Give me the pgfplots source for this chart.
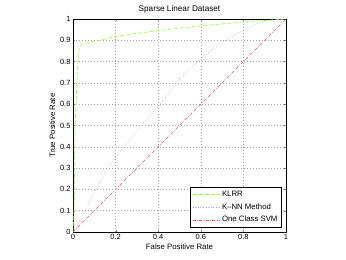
\documentclass[border=0pt]{standalone}
\usepackage{pgfplots}
\pgfplotsset{compat=1.18}
\usepackage{fontspec}
\setmainfont{Liberation Sans}
\definecolor{klrr}{rgb}{0.55,1,0.2}
\definecolor{knn}{rgb}{0.6,0.6,1}
\definecolor{svm}{rgb}{1,0.3,0.3}
\begin{document}
\begin{tikzpicture}[x=1pt,y=1pt]
\useasboundingbox (0,0) rectangle (346,260);
\begin{axis}[
  at={(73pt,28pt)}, anchor=south west,
  scale only axis, width=213pt, height=213pt,
  xmin=0, xmax=1, ymin=0, ymax=1,
  xtick={0,0.2,0.4,0.6,0.8,1},
  ytick={0,0.1,0.2,0.3,0.4,0.5,0.6,0.7,0.8,0.9,1},
  tick align=inside, tick pos=both,
  major tick length=2pt,
  grid=major,
  grid style={dash pattern=on 0.7pt off 2.3pt, gray!75, line width=0.4pt},
  axis line style={line width=0.5pt},
  /pgf/number format/assume math mode=true,
  ticklabel style={font=\fontsize{7.5}{8}\selectfont},
  label style={font=\fontsize{7.8}{8}\selectfont},
  title style={font=\fontsize{8.2}{9}\selectfont, yshift=-4pt},
  title={Sparse Linear Dataset},
  xlabel={False Positive Rate},
  ylabel={True Positive Rate},
  xlabel style={yshift=3pt},
  ylabel style={yshift=-2pt},
  xticklabel style={yshift=1pt},
  yticklabel style={xshift=1pt},
  legend style={at={(0.98,0.02)}, anchor=south east, font=\fontsize{7.8}{9}\selectfont, draw=black, line width=0.5pt, inner sep=2pt, row sep=1.5pt, legend cell align=left},
  legend image code/.code={\draw[#1, line width=0.8pt] (0cm,0cm) -- (0.95cm,0cm);},
]
\addplot[klrr, line width=0.6pt, dash pattern=on 4pt off 2pt] coordinates {
(0,0) (0.005,0.1) (0.01,0.5) (0.02,0.75) (0.03,0.87) (0.05,0.885) (0.1,0.895) (0.2,0.917) (0.3,0.933) (0.4,0.945) (0.5,0.957) (0.6,0.968) (0.7,0.977) (0.8,0.986) (0.9,0.993) (1,1)};
\addlegendentry{KLRR}
\addplot[knn, dotted, line width=0.6pt] coordinates {
(0,0) (0.02,0.03) (0.056,0.1) (0.108,0.2) (0.165,0.3) (0.24,0.4) (0.32,0.5) (0.41,0.6) (0.5,0.72) (0.6,0.815) (0.7,0.89) (0.785,0.94) (0.87,0.98) (0.93,0.995) (1,1)};
\addlegendentry{K--NN Method}
\addplot[svm, dash pattern=on 3pt off 1.5pt on 0.6pt off 1.5pt, line width=0.6pt] coordinates {
(0,0) (0.1,0.1) (0.2,0.2) (0.3,0.3) (0.4,0.4) (0.5,0.5) (0.6,0.6) (0.7,0.7) (0.8,0.8) (0.9,0.9) (1,1)};
\addlegendentry{One Class SVM}
\end{axis}
\end{tikzpicture}
\end{document}
